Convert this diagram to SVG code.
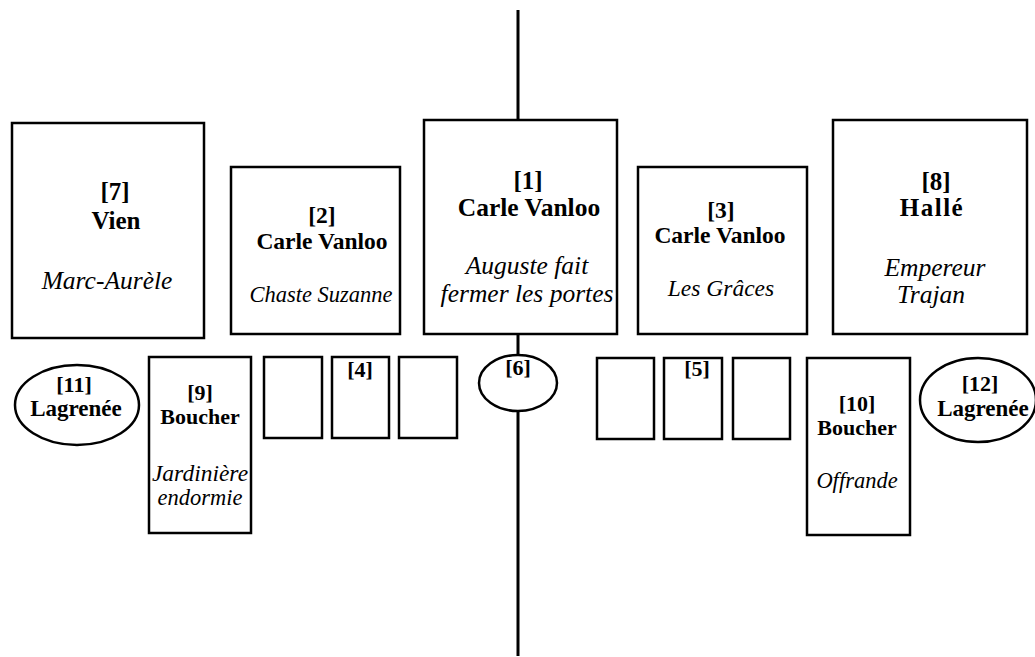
<svg xmlns="http://www.w3.org/2000/svg" width="1035" height="657" viewBox="0 0 1035 657" font-family="Liberation Serif, Times New Roman, serif">
<style>
.b{fill:#fff;stroke:#000;stroke-width:2.5}
.c{stroke:#000;stroke-width:3;fill:none}
text{fill:#000;text-anchor:middle;font-family:"Liberation Serif","Times New Roman",serif}
.t{font-weight:bold;font-size:25px}
.s{font-weight:bold;font-size:23.5px}
.r{font-weight:bold;font-size:22px}
.i{font-style:italic;font-size:25.5px}
.j{font-style:italic;font-size:22.5px}
</style>
<g id="connectors">
<line class="c" x1="518" y1="10" x2="518" y2="656"/>
</g>
<g id="n7"><rect class="b" x="12" y="123" width="192" height="215"/>
<text class="t" x="115" y="200">[7]</text><text class="t" x="116" y="229">Vien</text><text class="i" x="107" y="289">Marc-Aurèle</text></g>
<g id="n2"><rect class="b" x="231" y="167" width="169" height="167"/>
<text class="s" x="322" y="223">[2]</text><text class="s" x="322" y="249">Carle Vanloo</text><text class="j" x="321" y="302">Chaste Suzanne</text></g>
<g id="n1"><rect class="b" x="424" y="120" width="193" height="214"/>
<text class="t" x="528" y="189">[1]</text><text class="t" x="529" y="216" style="font-size:25.5px">Carle Vanloo</text><text class="i" x="527" y="274">Auguste fait</text><text class="i" x="527" y="302">fermer les portes</text></g>
<g id="n3"><rect class="b" x="638" y="167" width="169" height="167"/>
<text class="s" x="721" y="218">[3]</text><text class="s" x="720" y="243">Carle Vanloo</text><text class="j" x="721" y="296" style="font-size:23.5px">Les Grâces</text></g>
<g id="n8"><rect class="b" x="833" y="120" width="194" height="214"/>
<text class="t" x="936" y="190">[8]</text><text class="t" x="932" y="216" style="letter-spacing:1.5px">Hallé</text><text class="i" x="935" y="276">Empereur</text><text class="i" x="931" y="303">Trajan</text></g>
<g id="n11"><ellipse class="b" cx="77" cy="405" rx="62" ry="40"/>
<text class="r" x="74" y="392">[11]</text><text class="r" x="76" y="416" style="font-size:23px">Lagrenée</text></g>
<g id="n9"><rect class="b" x="149" y="357" width="102" height="176"/>
<text class="r" x="200" y="400">[9]</text><text class="r" x="200" y="424">Boucher</text><text class="j" x="200" y="481" style="font-size:23.5px">Jardinière</text><text class="j" x="200" y="505">endormie</text></g>
<g id="n4a"><rect class="b" x="264" y="357" width="58" height="81"/></g>
<g id="n4"><rect class="b" x="332" y="357" width="57" height="81"/><text class="r" x="360" y="377">[4]</text></g>
<g id="n4b"><rect class="b" x="399" y="357" width="58" height="81"/></g>
<g id="n6"><ellipse class="b" cx="518" cy="383" rx="39" ry="28"/><text class="r" x="518" y="375">[6]</text></g>
<g id="n5a"><rect class="b" x="597" y="358" width="57" height="81"/></g>
<g id="n5"><rect class="b" x="664" y="358" width="58" height="81"/><text class="r" x="697" y="376">[5]</text></g>
<g id="n5b"><rect class="b" x="733" y="358" width="57" height="81"/></g>
<g id="n10"><rect class="b" x="807" y="358" width="103" height="177"/>
<text class="r" x="857" y="411">[10]</text><text class="r" x="857" y="435">Boucher</text><text class="j" x="857" y="488">Offrande</text></g>
<g id="n12"><ellipse class="b" cx="978" cy="400" rx="58" ry="42"/>
<text class="r" x="980" y="391">[12]</text><text class="r" x="983" y="416" style="font-size:23px">Lagrenée</text></g>
</svg>
